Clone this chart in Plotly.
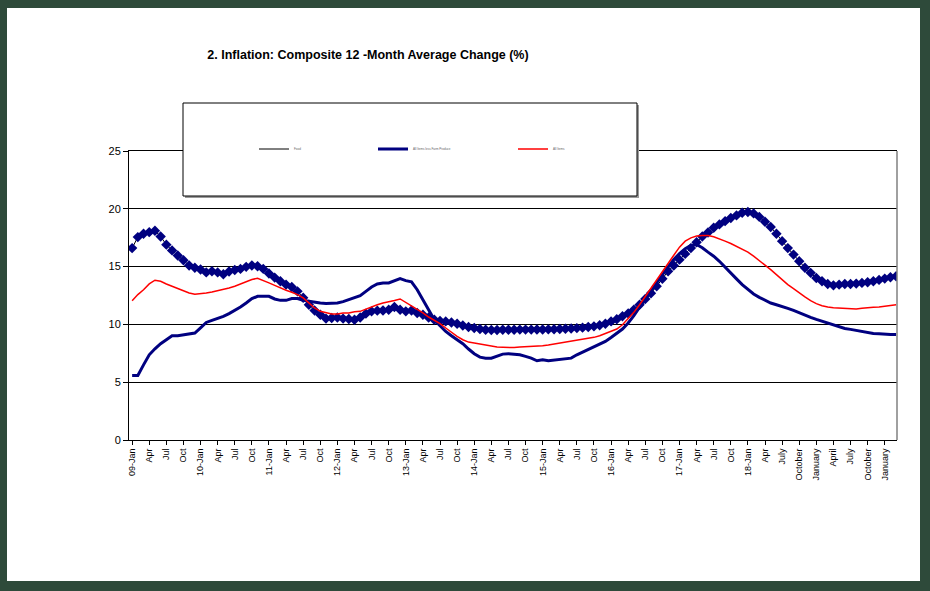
import plotly.graph_objects as go

# ---------------- data (Jan 2009 .. Mar 2020, monthly) ----------------
tick_labels = []
for yy in range(9, 18):
    tick_labels += [f"{yy:02d}-Jan", "Apr", "Jul", "Oct"]
tick_labels += ["18-Jan", "Apr", "July", "October",
                "January", "April", "July", "October", "January"]

food = [16.6, 17.55, 17.84, 17.98, 18.1, 17.6, 16.9, 16.4, 15.96, 15.55, 15.1, 14.9,
        14.75, 14.5, 14.6, 14.5, 14.34, 14.57, 14.7, 14.8, 14.98, 15.1, 15.03, 14.8,
        14.4, 14.05, 13.73, 13.44, 13.24, 12.86, 12.3, 11.7, 11.2, 10.84, 10.5, 10.55,
        10.6, 10.5, 10.47, 10.4, 10.6, 10.93, 11.13, 11.19, 11.2, 11.27, 11.5, 11.27,
        11.13, 11.2, 10.99, 10.84, 10.6, 10.4, 10.3, 10.26, 10.17, 10.06, 9.9, 9.77,
        9.69, 9.6, 9.54, 9.52, 9.52, 9.54, 9.54, 9.54, 9.55, 9.55, 9.55, 9.56,
        9.56, 9.57, 9.58, 9.6, 9.62, 9.65, 9.68, 9.72, 9.77, 9.83, 9.92, 10.05,
        10.26, 10.45, 10.7, 10.95, 11.27, 11.7, 12.2, 12.7, 13.3, 13.95, 14.6, 15.1,
        15.6, 16.1, 16.6, 17.1, 17.6, 17.95, 18.36, 18.65, 18.93, 19.2, 19.43, 19.66,
        19.72, 19.6, 19.3, 18.88, 18.42, 17.84, 17.2, 16.6, 16.04, 15.46, 14.9, 14.46,
        14.02, 13.73, 13.5, 13.38, 13.44, 13.5, 13.5, 13.53, 13.59, 13.64, 13.73, 13.85,
        13.96, 14.08, 14.16]

core = [5.58, 5.58, 6.5, 7.37, 7.89, 8.33, 8.67, 9.02, 9.02, 9.1, 9.22, 9.25,
        9.7, 10.17, 10.35, 10.5, 10.7, 10.93, 11.2, 11.5, 11.85, 12.23, 12.43, 12.43,
        12.43, 12.2, 12.08, 12.08, 12.23, 12.23, 12.08, 12.0, 11.91, 11.85, 11.8, 11.8,
        11.85, 11.97, 12.14, 12.29, 12.49, 12.86, 13.24, 13.5, 13.59, 13.59, 13.79, 13.96,
        13.79, 13.68, 13.0, 12.14, 11.27, 10.4, 9.89, 9.39, 9.02, 8.67, 8.33, 7.87,
        7.46, 7.17, 7.08, 7.08, 7.23, 7.43, 7.47, 7.43, 7.37, 7.23, 7.08, 6.85,
        6.94, 6.85, 6.9, 6.94, 7.0, 7.08, 7.37, 7.6, 7.8, 8.04, 8.33, 8.53,
        8.87, 9.25, 9.6, 10.12, 10.75, 11.5, 12.14, 12.86, 13.59, 14.31, 14.98, 15.61,
        16.13, 16.54, 16.83, 16.91, 16.63, 16.25, 15.9, 15.46, 14.98, 14.46, 13.94, 13.44,
        13.0, 12.63, 12.34, 12.08, 11.85, 11.7, 11.56, 11.39, 11.21, 10.99, 10.78, 10.61,
        10.43, 10.26, 10.12, 9.97, 9.8, 9.65, 9.57, 9.48, 9.39, 9.31, 9.22, 9.19,
        9.13, 9.13, 9.13]

all_items = [12.05, 12.58, 13.0, 13.5, 13.82, 13.73, 13.5, 13.3, 13.12, 12.92, 12.72, 12.6,
             12.63, 12.72, 12.81, 12.92, 13.0, 13.15, 13.3, 13.5, 13.73, 13.88, 13.99, 13.82,
             13.59, 13.38, 13.15, 12.95, 12.78, 12.58, 12.29, 11.85, 11.42, 11.13, 10.99, 10.9,
             10.9, 10.99, 10.99, 11.1, 11.13, 11.33, 11.56, 11.7, 11.85, 11.94, 12.06, 12.2,
             11.91, 11.62, 11.33, 10.99, 10.64, 10.35, 10.06, 9.69, 9.31, 8.96, 8.67, 8.47,
             8.39, 8.3, 8.21, 8.13, 8.04, 8.02, 7.98, 8.0, 8.04, 8.06, 8.09, 8.12,
             8.15, 8.22, 8.3, 8.37, 8.44, 8.52, 8.59, 8.67, 8.76, 8.88, 9.02, 9.2,
             9.39, 9.6, 9.97, 10.47, 11.04, 11.7, 12.43, 13.15, 13.82, 14.51, 15.26, 15.98,
             16.68, 17.2, 17.49, 17.64, 17.69, 17.69, 17.58, 17.41, 17.2, 17.0, 16.77, 16.54,
             16.25, 15.9, 15.52, 15.18, 14.74, 14.31, 13.88, 13.44, 13.1, 12.72, 12.38, 12.06,
             11.8, 11.62, 11.5, 11.45, 11.42, 11.42, 11.36, 11.33, 11.39, 11.45, 11.48, 11.5,
             11.56, 11.62, 11.7]

series_names = ["Food", "All Items less Farm Produce", "All Items"]
title_text = "2. Inflation: Composite 12 -Month Average Change (%)"

months = list(range(len(food)))
tick_vals = list(range(0, 3 * len(tick_labels), 3))

# ---------------- layout geometry (pixels) ----------------
W, H = 930, 591
PL, PR, PT, PB = 129, 897, 151, 440


def px(xp):
    return (xp - PL) / (PR - PL)


def py(yp):
    return (PB - yp) / (PB - PT)


FONT = "Liberation Sans, Arial, sans-serif"
NAVY = "#000080"
FRAME = "#2E4A3A"

fig = go.Figure()

fig.add_trace(go.Scatter(x=months, y=food, mode="lines", name=series_names[0],
                         line=dict(color="black", width=1), legend="legend"))
fig.add_trace(go.Scatter(x=months, y=food, mode="markers", showlegend=False,
                         marker=dict(symbol="diamond", size=8, color=NAVY,
                                     line=dict(width=0))))
fig.add_trace(go.Scatter(x=months, y=core, mode="lines", name=series_names[1],
                         line=dict(color=NAVY, width=3), legend="legend2"))
fig.add_trace(go.Scatter(x=months, y=all_items, mode="lines", name=series_names[2],
                         line=dict(color="#FF0000", width=1.5), legend="legend3"))

leg_common = dict(orientation="h", bgcolor="rgba(0,0,0,0)", borderwidth=0,
                  font=dict(family=FONT, size=3, color="#666666"),
                  yanchor="middle", xanchor="left", itemwidth=30)

fig.update_layout(
    width=W, height=H,
    paper_bgcolor=FRAME,
    plot_bgcolor="white",
    margin=dict(l=PL, r=W - PR, t=PT, b=H - PB, pad=0),
    showlegend=True,
    title=dict(text=f"<b>{title_text}</b>", xref="container", x=368 / W,
               xanchor="center", yref="container", y=1 - 55 / H, yanchor="middle",
               font=dict(family=FONT, size=12.5, color="black")),
    legend=dict(x=px(254), y=py(149), **leg_common),
    legend2=dict(x=px(373), y=py(149), **leg_common),
    legend3=dict(x=px(513), y=py(149), **leg_common),
    xaxis=dict(range=[-0.55, 134.15], tickmode="array", tickvals=tick_vals,
               ticktext=tick_labels, tickangle=-90, ticks="outside", ticklen=4,
               tickcolor="black", tickwidth=1,
               tickfont=dict(family=FONT, size=9, color="black"),
               showgrid=False, zeroline=False, showline=True, linecolor="black",
               linewidth=1, mirror=True),
    yaxis=dict(range=[0, 25], tickmode="linear", tick0=0, dtick=5,
               ticks="outside", ticklen=5, tickcolor="black",
               tickfont=dict(family=FONT, size=11, color="black"),
               showgrid=True, gridcolor="black", gridwidth=1,
               zeroline=False, showline=True, linecolor="black", linewidth=1),
    shapes=[
        # white chart area inside the dark frame
        dict(type="rect", xref="paper", yref="paper", layer="below",
             x0=px(7), x1=px(920), y0=py(581), y1=py(8),
             fillcolor="white", line=dict(width=0)),
        # grey right border of plot area
        dict(type="line", xref="paper", yref="paper", layer="above",
             x0=1, x1=1, y0=0, y1=1, line=dict(color="#808080", width=1.5)),
        # legend shadow
        dict(type="rect", xref="paper", yref="paper", layer="above",
             x0=px(185), x1=px(639), y0=py(198), y1=py(105),
             fillcolor="#9a9a9a", line=dict(width=0)),
        # legend box
        dict(type="rect", xref="paper", yref="paper", layer="above",
             x0=px(183), x1=px(637), y0=py(196), y1=py(103),
             fillcolor="white", line=dict(color="black", width=1)),
    ],
)

fig.write_html(
    "out.html",
    config={"displayModeBar": False},
    post_script=(
        "document.body.style.margin='0';"
        f"document.body.style.background='{FRAME}';"
        "document.documentElement.style.background='" + FRAME + "';"
        "document.body.style.overflow='hidden';"
    ),
)
